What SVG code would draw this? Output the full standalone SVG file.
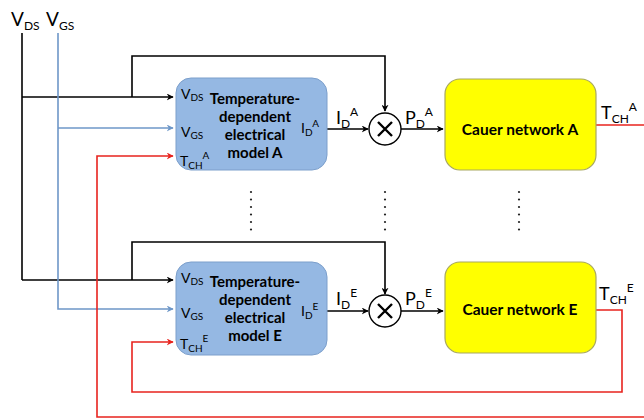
<svg xmlns="http://www.w3.org/2000/svg" width="644" height="420" viewBox="0 0 644 420">
<defs>
<marker id="ak" viewBox="0 0 10 10" refX="9" refY="5" markerWidth="7" markerHeight="7" markerUnits="userSpaceOnUse" orient="auto"><path d="M0,0 L10,5 L0,10 L3,5 z" fill="#000"/></marker>
<marker id="ab" viewBox="0 0 10 10" refX="9" refY="5" markerWidth="7" markerHeight="7" markerUnits="userSpaceOnUse" orient="auto"><path d="M0,0 L10,5 L0,10 L3,5 z" fill="#6E97C8"/></marker>
<marker id="ar" viewBox="0 0 10 10" refX="9" refY="5" markerWidth="7" markerHeight="7" markerUnits="userSpaceOnUse" orient="auto"><path d="M0,0 L10,5 L0,10 L3,5 z" fill="#E8231E"/></marker>
<style>
text{font-family:Lato,"Open Sans","Liberation Sans",sans-serif;fill:#000}
.k{fill:none;stroke:#000;stroke-width:1.6}
.b{fill:none;stroke:#6E97C8;stroke-width:1.6}
.r{fill:none;stroke:#E8231E;stroke-width:1.6}
.em{fill:#95B8E3;stroke:#7C9FCB;stroke-width:1}
.cn{fill:#FFFF00;stroke:#A8A860;stroke-width:1.2}
.bt{font-weight:bold;font-size:15px;text-anchor:middle}
.ct{font-weight:bold;font-size:15.5px;text-anchor:middle}
.lbl{font-size:18px}
.top{font-size:19px}
.in{font-size:14px}
.sub{font-size:10px}
.ls{font-size:12px}
.dot{fill:#222}
</style>
</defs>
<g id="connectors">
<path class="k" d="M22,33 V280"/>
<path class="k" d="M22,97 H173" marker-end="url(#ak)"/>
<path class="k" d="M132,97 V56 H385 V111" marker-end="url(#ak)"/>
<path class="k" d="M22,280 H173" marker-end="url(#ak)"/>
<path class="k" d="M132,280 V242 H385 V294" marker-end="url(#ak)"/>
<path class="b" d="M58,33 V309 H173" marker-end="url(#ab)"/>
<path class="b" d="M58,128 H173" marker-end="url(#ab)"/>
<path class="k" d="M327,129 H368" marker-end="url(#ak)"/>
<path class="k" d="M327,311 H368" marker-end="url(#ak)"/>
<path class="k" d="M401,129 H443" marker-end="url(#ak)"/>
<path class="k" d="M401,311 H443" marker-end="url(#ak)"/>
<path class="r" d="M596,125 H644"/>
<path class="r" d="M644,417 H97 V156 H173" marker-end="url(#ar)"/>
<path class="r" d="M596,310 H622 V392 H132 V342 H173" marker-end="url(#ar)"/>
</g>
<g id="inputs">
<text x="11" y="26" class="top">V<tspan class="ls" dy="4">DS</tspan></text>
<text x="46" y="26" class="top">V<tspan class="ls" dy="4">GS</tspan></text>
</g>
<g id="modelA">
<rect class="em" x="176" y="78" width="151" height="92" rx="15"/>
<text x="181" y="99" class="in">V<tspan class="sub" dy="2">DS</tspan></text>
<text x="181" y="137" class="in">V<tspan class="sub" dy="2">GS</tspan></text>
<text x="180" y="166" class="in">T<tspan class="sub" dy="3">CH</tspan><tspan class="sub" dy="-10">A</tspan></text>
<text x="255" y="104" class="bt">Temperature-</text>
<text x="255" y="122" class="bt">dependent</text>
<text x="255" y="140" class="bt">electrical</text>
<text x="255" y="158" class="bt">model A</text>
<text x="301" y="133" class="in">I<tspan class="sub" dy="3">D</tspan><tspan class="sub" dy="-9">A</tspan></text>
</g>
<g id="multA">
<circle cx="385" cy="129" r="16" fill="#fff" stroke="#000" stroke-width="1.4"/>
<path d="M378,122 L392,136 M392,122 L378,136" stroke="#000" stroke-width="2.4"/>
</g>
<g id="cauerA">
<rect class="cn" x="445" y="79" width="151" height="91" rx="15"/>
<text x="520" y="135" class="ct">Cauer network A</text>
</g>
<g id="labelsA">
<text x="336" y="124" class="lbl">I<tspan class="ls" dy="4">D</tspan><tspan class="ls" dy="-12">A</tspan></text>
<text x="405" y="124" class="lbl">P<tspan class="ls" dy="4">D</tspan><tspan class="ls" dy="-12">A</tspan></text>
<text x="601" y="119" class="lbl">T<tspan class="ls" dy="4">CH</tspan><tspan class="ls" dy="-12">A</tspan></text>
</g>
<g id="modelE">
<rect class="em" x="176" y="262" width="151" height="93" rx="15"/>
<text x="181" y="283" class="in">V<tspan class="sub" dy="2">DS</tspan></text>
<text x="181" y="318" class="in">V<tspan class="sub" dy="2">GS</tspan></text>
<text x="180" y="349" class="in">T<tspan class="sub" dy="3">CH</tspan><tspan class="sub" dy="-10">E</tspan></text>
<text x="255" y="287" class="bt">Temperature-</text>
<text x="255" y="305" class="bt">dependent</text>
<text x="255" y="323" class="bt">electrical</text>
<text x="255" y="341" class="bt">model E</text>
<text x="301" y="316" class="in">I<tspan class="sub" dy="3">D</tspan><tspan class="sub" dy="-9">E</tspan></text>
</g>
<g id="multE">
<circle cx="385" cy="311" r="16" fill="#fff" stroke="#000" stroke-width="1.4"/>
<path d="M378,304 L392,318 M392,304 L378,318" stroke="#000" stroke-width="2.4"/>
</g>
<g id="cauerE">
<rect class="cn" x="445" y="262" width="151" height="91" rx="15"/>
<text x="520" y="315" class="ct">Cauer network E</text>
</g>
<g id="labelsE">
<text x="336" y="305" class="lbl">I<tspan class="ls" dy="4">D</tspan><tspan class="ls" dy="-12">E</tspan></text>
<text x="405" y="305" class="lbl">P<tspan class="ls" dy="4">D</tspan><tspan class="ls" dy="-12">E</tspan></text>
<text x="599" y="300" class="lbl">T<tspan class="ls" dy="4">CH</tspan><tspan class="ls" dy="-12">E</tspan></text>
</g>
<g id="ellipsis">
<g class="dot">
<circle cx="251" cy="192" r="1.1"/><circle cx="251" cy="199.5" r="1.1"/><circle cx="251" cy="207" r="1.1"/><circle cx="251" cy="214.5" r="1.1"/><circle cx="251" cy="222" r="1.1"/><circle cx="251" cy="229.5" r="1.1"/>
<circle cx="385" cy="192" r="1.1"/><circle cx="385" cy="199.5" r="1.1"/><circle cx="385" cy="207" r="1.1"/><circle cx="385" cy="214.5" r="1.1"/><circle cx="385" cy="222" r="1.1"/><circle cx="385" cy="229.5" r="1.1"/>
<circle cx="519" cy="192" r="1.1"/><circle cx="519" cy="199.5" r="1.1"/><circle cx="519" cy="207" r="1.1"/><circle cx="519" cy="214.5" r="1.1"/><circle cx="519" cy="222" r="1.1"/><circle cx="519" cy="229.5" r="1.1"/>
</g>
</g>
</svg>
